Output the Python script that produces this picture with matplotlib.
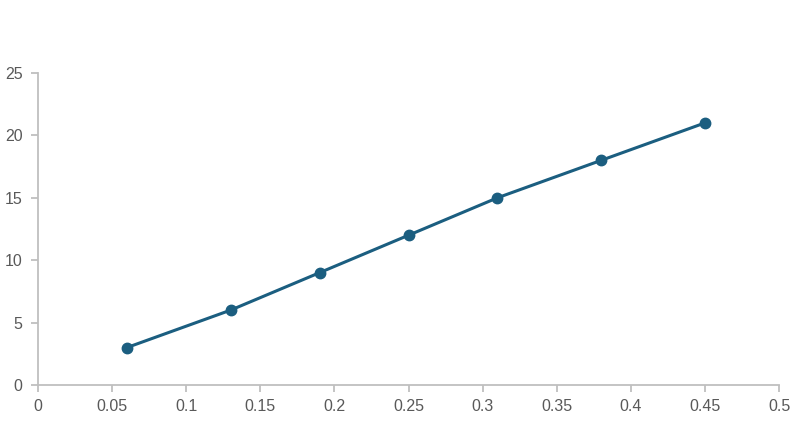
import matplotlib.pyplot as plt

x_vals = [0.06, 0.13, 0.19, 0.25, 0.31, 0.38, 0.45]
y_vals = [3, 6, 9, 12, 15, 18, 21]
x_ticks = [0, 0.05, 0.1, 0.15, 0.2, 0.25, 0.3, 0.35, 0.4, 0.45, 0.5]
x_labels = ["0", "0.05", "0.1", "0.15", "0.2", "0.25", "0.3", "0.35", "0.4", "0.45", "0.5"]
y_ticks = [0, 5, 10, 15, 20, 25]

plt.rcParams['font.family'] = ['Liberation Sans', 'DejaVu Sans']

fig = plt.figure(figsize=(8.08, 4.21), dpi=100)
ax = fig.add_axes([38 / 808, 1 - 385 / 421, (779 - 38) / 808, (385 - 73) / 421])

ax.plot(x_vals, y_vals, color="#1b5e80", linewidth=2.2, marker="o", markersize=7.5,
        solid_capstyle="round", zorder=3)

ax.set_xlim(0, 0.5)
ax.set_ylim(0, 25)
ax.set_xticks(x_ticks)
ax.set_xticklabels(x_labels)
ax.set_yticks(y_ticks)

for side in ["top", "right"]:
    ax.spines[side].set_visible(False)
for side in ["left", "bottom"]:
    ax.spines[side].set_color("#bfbfbf")
    ax.spines[side].set_linewidth(1.3)

ax.tick_params(axis="both", colors="#bfbfbf", length=5, width=1.3,
               labelcolor="#595959", labelsize=11.5)
ax.tick_params(axis="x", pad=5)
ax.tick_params(axis="y", pad=6)

fig.savefig("out.png", dpi=100)
